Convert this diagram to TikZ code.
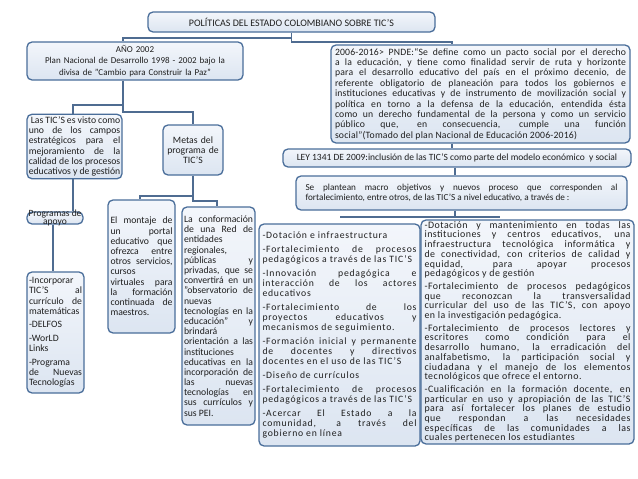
\documentclass[tikz,border=0pt]{standalone}
\usepackage{fontspec}
\setmainfont{Carlito}
\tolerance=10000 \hyphenpenalty=10000 \exhyphenpenalty=10000 \hbadness=10000 \hfuzz=4pt
\definecolor{boxtop}{HTML}{F3F6FB}
\definecolor{boxbot}{HTML}{DCE5F1}
\definecolor{boxline}{HTML}{4A6E9A}
\definecolor{conncol}{HTML}{4F6C91}
\newcommand{\fs}{\fontsize{9.7}{10.2}\selectfont}
\newcommand{\pp}{\par\vspace{3.5pt}}
\newcommand{\ppr}{\par\vspace{3pt}}
\begin{document}
\begin{tikzpicture}[x=1pt,y=-1pt,
  box/.style={draw=boxline, line width=1.3pt, top color=boxtop, bottom color=boxbot, rounded corners=5pt, inner sep=2.5pt, font=\fs, text=black!88},
  jbox/.style={box, align=justify},
  cbox/.style={box, align=center},
  conn/.style={draw=conncol, line width=1.5pt}]
\fill[white] (0,0) rectangle (638,479);
\useasboundingbox (0,0) rectangle (638,479);

\node[cbox, minimum width=287pt, minimum height=20pt, font=\fontsize{10}{11}\selectfont] (top) at (291.5,22) {POLÍTICAS DEL ESTADO COLOMBIANO SOBRE TIC’S};

\node[cbox, minimum width=216pt, minimum height=38pt, text width=208pt, font=\fontsize{9}{11.5}\selectfont] (ano) at (135,61) {AÑO 2002\\Plan Nacional de Desarrollo 1998 - 2002 bajo la\\divisa de "Cambio para Construir la Paz"};

\node[jbox, minimum width=299pt, minimum height=98pt, text width=291pt, font=\fontsize{9.7}{10.4}\selectfont\addfontfeature{LetterSpace=2}] (pnde) at (480.5,94) {2006-2016> PNDE:“Se define como un pacto social por el derecho\linebreak a la educación, y tiene como finalidad servir de ruta y horizonte\linebreak para el desarrollo educativo del país en el próximo decenio, de\linebreak referente obligatorio de planeación para todos los gobiernos e\linebreak instituciones educativas y de instrumento de movilización social y\linebreak política en torno a la defensa de la educación, entendida ésta\linebreak como un derecho fundamental de la persona y como un servicio\linebreak público que, en consecuencia, cumple una función\linebreak social”(Tomado del plan Nacional de Educación 2006-2016)};

\node[cbox, minimum width=348pt, minimum height=18pt, font=\fontsize{9.5}{10}\selectfont] (ley) at (457,158) {LEY 1341 DE 2009:inclusión de las TIC’S como parte del modelo económico\ \ y social};

\node[jbox, minimum width=331pt, minimum height=34pt, text width=312pt, font=\fontsize{9.2}{10.4}\selectfont] (plant) at (461.5,193) {Se plantean macro objetivos y nuevos proceso que corresponden al\linebreak fortalecimiento, entre otros, de las TIC’S a nivel educativo, a través de :};

\node[jbox, minimum width=95pt, minimum height=61pt, text width=91.5pt, inner xsep=1.5pt] (las) at (74.5,146.5) {\ Las TIC’S es visto como\linebreak uno de los campos\linebreak estratégicos para el\linebreak mejoramiento de la\linebreak calidad de los procesos\linebreak educativos y de gestión};

\node[cbox, minimum width=60pt, minimum height=50pt, text width=54pt] (metas) at (193,150) {Metas del\\programa de\\TIC’S};

\node[box, minimum width=56pt, minimum height=12pt, inner sep=0pt] (prog) at (55,218) {};
\node[align=center, inner sep=0pt, font=\fontsize{9.5}{8.2}\selectfont, text=black!88] (progtxt) at (prog.center) {Programas de\\apoyo};

\node[jbox, minimum width=57pt, minimum height=121pt, text width=53pt, inner xsep=2pt] (inc) at (55.5,332.5) {-Incorporar\linebreak TIC’S al\linebreak currículo de\linebreak matemáticas\pp -DELFOS\pp -WorLD\newline Links\pp -Programa\linebreak de Nuevas\linebreak Tecnologías};

\node[jbox, minimum width=67pt, minimum height=133pt, text width=62pt, inner xsep=2pt] (mont) at (141.5,266.5) {El montaje de\linebreak un portal\linebreak educativo que\linebreak ofrezca entre\linebreak otros servicios,\linebreak cursos\newline virtuales para\linebreak la formación\linebreak continuada de\linebreak maestros.};

\node[jbox, minimum width=73pt, minimum height=218pt, text width=69pt, inner xsep=1.8pt] (conf) at (218.5,316) {La conformación\linebreak de una Red de\linebreak entidades\newline regionales,\newline públicas y\linebreak privadas, que se\linebreak convertirá en un\linebreak "observatorio de\linebreak nuevas\newline tecnologías en la\linebreak educación" y\linebreak brindará\newline orientación a las\linebreak instituciones\newline educativas en la\linebreak incorporación de\linebreak las nuevas\linebreak tecnologías en\linebreak sus currículos y\linebreak sus PEI.};

\node[jbox, minimum width=161pt, minimum height=222pt, text width=154pt, font=\fontsize{9.7}{10.2}\selectfont\addfontfeature{LetterSpace=8}] (dot) at (339.5,335) {-Dotación e infraestructura\pp -Fortalecimiento de procesos\linebreak pedagógicos a través de las TIC’S\pp -Innovación pedagógica e\linebreak interacción de los actores\linebreak educativos\pp -Fortalecimiento de los\linebreak proyectos educativos y\linebreak mecanismos de seguimiento.\pp -Formación inicial y permanente\linebreak de docentes y directivos\linebreak docentes en el uso de las TIC’S\pp -Diseño de currículos\pp -Fortalecimiento de procesos\linebreak pedagógicos a través de las TIC’S\pp -Acercar El Estado a la\linebreak comunidad, a través del\linebreak gobierno en línea};

\node[jbox, minimum width=213pt, minimum height=224pt, text width=206pt, inner ysep=1pt, font=\fontsize{9.9}{9.7}\selectfont\addfontfeature{LetterSpace=5}] (rt) at (527.5,332) {-Dotación y mantenimiento en todas las\linebreak instituciones y centros educativos, una\linebreak infraestructura tecnológica informática y\linebreak de conectividad, con criterios de calidad y\linebreak equidad, para apoyar procesos\linebreak pedagógicos y de gestión\ppr -Fortalecimiento de procesos pedagógicos\linebreak que reconozcan la transversalidad\linebreak curricular del uso de las TIC’S, con apoyo\linebreak en la investigación pedagógica.\ppr -Fortalecimiento de procesos lectores y\linebreak escritores como condición para el\linebreak desarrollo humano, la erradicación del\linebreak analfabetismo, la participación social y\linebreak ciudadana y el manejo de los elementos\linebreak tecnológicos que ofrece el entorno.\ppr -Cualificación en la formación docente, en\linebreak particular en uso y apropiación de las TIC’S\linebreak para así fortalecer los planes de estudio\linebreak que respondan a las necesidades\linebreak específicas de las comunidades a las\linebreak cuales pertenecen los estudiantes};

% connector helper coordinates
\coordinate (a1) at (291.5,38);
\coordinate (a2) at (291.5,42);
\coordinate (xp) at (452,0);
\coordinate (xa) at (123,0);
\coordinate (xl) at (455,0);
\coordinate (c1) at (123,112);
\coordinate (c2) at (123,105);
\coordinate (c3) at (73,105);
\coordinate (c4) at (193,112);
\coordinate (xq) at (53,0);
\coordinate (d1) at (193,201);
\coordinate (d2) at (193,196);
\coordinate (d3) at (140,196);
\coordinate (d4) at (217,201);
\coordinate (e1) at (455,217);
\coordinate (e2) at (340,217);
\coordinate (e3) at (500,217);

\draw[conn] (top.south) -- (a2) -- (a2 -| xp) -- (pnde.north -| xp);
\draw[conn] (a1) -- (a1 -| xa) -- (ano.north -| xa);
\draw[conn] (pnde.south -| xp) -- (ley.north -| xp);
\draw[conn] (ley.south -| xl) -- (plant.north -| xl);
\draw[conn] (plant.south -| xl) -- (e1);
\draw[conn] (e2) -- (e3);
\draw[conn] (ano.south -| xa) -- (c1) -- (c4) -- (metas.north);
\draw[conn] (c2) -- (c3) -- (las.north -| c3);
\draw[conn] (las.south -| c3) -- (prog.north -| c3);
\draw[conn] (prog.south -| xq) -- (inc.north -| xq);
\draw[conn] (metas.south) -- (d1) -- (d4) -- (conf.north -| d4);
\draw[conn] (d2) -- (d3) -- (mont.north -| d3);
\end{tikzpicture}
\end{document}
